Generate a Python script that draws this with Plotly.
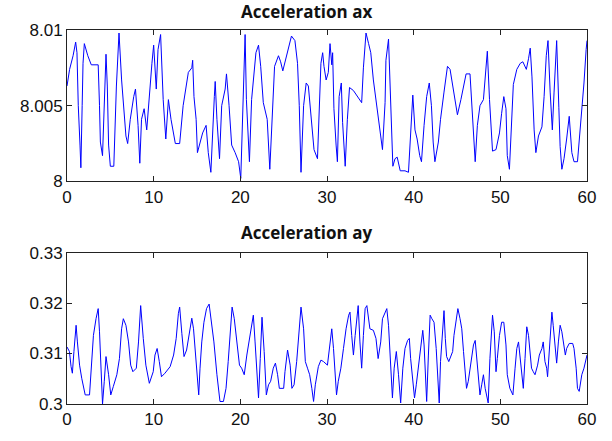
import plotly.graph_objects as go
from plotly.subplots import make_subplots

# Acceleration ax (time s, value)
ax_t = [0, 0.3, 0.7, 1.0, 1.15, 1.3, 1.5, 1.6, 1.75, 1.85, 2.0, 2.4, 2.8, 3.6, 3.75, 3.85, 4.1, 4.3, 4.5, 4.65,
        4.8, 5.0, 5.4, 5.7, 6.0, 6.3, 6.5, 6.7, 6.8, 7.0, 7.3, 7.7, 7.9, 8.2, 8.4, 8.6, 8.9, 9.2, 9.5, 9.8,
        10.0, 10.3, 10.5, 10.8, 11.1, 11.4, 11.7, 12.0, 12.5, 13.0, 13.4, 14.0, 14.4, 14.5, 14.65, 14.9, 15.05, 15.35, 15.65, 16.05,
        16.3, 16.6, 16.8, 17.0, 17.1, 17.3, 17.6, 17.85, 18.25, 18.4, 18.7, 19.0, 19.4, 19.8, 20.05, 20.3, 20.55, 20.7, 21.05, 21.3,
        21.6, 21.8, 22.1, 22.35, 22.65, 23.1, 23.4, 23.7, 23.95, 24.4, 24.65, 24.9, 25.15, 25.55, 25.9, 26.3, 26.6, 26.8, 27.0, 27.3,
        27.6, 27.85, 28.25, 28.5, 28.9, 29.1, 29.3, 29.5, 29.65, 29.9, 30.15, 30.35, 30.55, 30.65, 30.8, 31.05, 31.2, 31.4, 31.65, 31.8,
        32.1, 32.35, 32.6, 33.05, 33.6, 34.0, 34.2, 34.5, 34.8, 35.05, 35.35, 35.65, 35.9, 36.2, 36.4, 36.7, 36.8, 37.1, 37.3, 37.6,
        37.85, 38.1, 38.45, 39.0, 39.4, 39.6, 39.9, 40.15, 40.4, 40.7, 40.9, 41.2, 41.5, 41.8, 42.05, 42.25, 42.45, 42.85, 43.1, 43.5,
        43.9, 44.2, 44.5, 44.65, 45.05, 45.45, 45.75, 46.05, 46.5, 46.8, 47.1, 47.35, 47.65, 48.05, 48.25, 48.5, 48.75, 49.0, 49.1, 49.5,
        49.9, 50.15, 50.4, 50.65, 50.8, 51.05, 51.3, 51.5, 51.9, 52.3, 52.6, 53.0, 53.25, 53.45, 53.65, 53.9, 54.1, 54.4, 54.8, 55.05,
        55.3, 55.5, 55.75, 56.0, 56.2, 56.5, 56.75, 56.9, 57.1, 57.35, 57.65, 57.95, 58.25, 58.5, 58.9, 59.1, 59.4, 59.65, 59.9, 60.0]
ax_v = [8.0063, 8.0074, 8.0083, 8.0092, 8.0085, 8.0050, 8.0024, 8.0009, 8.0050, 8.0078, 8.0091, 8.0083, 8.0077, 8.0077, 8.0050, 8.0026, 8.0017, 8.0056, 8.0084, 8.0063,
        8.0024, 8.0010, 8.0010, 8.0063, 8.0098, 8.0067, 8.0054, 8.0041, 8.0030, 8.0025, 8.0041, 8.0056, 8.0061, 8.0037, 8.0012, 8.0041, 8.0048, 8.0034, 8.0059, 8.0078,
        8.0090, 8.0061, 8.0087, 8.0097, 8.0054, 8.0028, 8.0054, 8.0041, 8.0025, 8.0025, 8.0050, 8.0072, 8.0075, 8.0080, 8.0056, 8.0041, 8.0019, 8.0026, 8.0032, 8.0037,
        8.0019, 8.0006, 8.0037, 8.0056, 8.0066, 8.0041, 8.0015, 8.0050, 8.0061, 8.0071, 8.0050, 8.0024, 8.0019, 8.0013, 8.0002, 8.0050, 8.0097, 8.0054, 8.0013, 8.0054,
        8.0074, 8.0085, 8.0090, 8.0076, 8.0052, 8.0041, 8.0008, 8.0041, 8.0076, 8.0083, 8.0079, 8.0073, 8.0079, 8.0087, 8.0096, 8.0093, 8.0078, 8.0050, 8.0006, 8.0050,
        8.0065, 8.0063, 8.0039, 8.0021, 8.0015, 8.0050, 8.0078, 8.0085, 8.0076, 8.0067, 8.0072, 8.0091, 8.0077, 8.0085, 8.0048, 8.0024, 8.0013, 8.0056, 8.0065, 8.0039,
        8.0010, 8.0041, 8.0062, 8.0060, 8.0055, 8.0052, 8.0075, 8.0098, 8.0091, 8.0085, 8.0067, 8.0054, 8.0043, 8.0032, 8.0021, 8.0052, 8.0080, 8.0094, 8.0054, 8.0010,
        8.0015, 8.0016, 8.0007, 8.0007, 8.0006, 8.0030, 8.0057, 8.0034, 8.0028, 8.0017, 8.0013, 8.0037, 8.0056, 8.0065, 8.0050, 8.0026, 8.0013, 8.0026, 8.0041, 8.0059,
        8.0076, 8.0074, 8.0063, 8.0056, 8.0044, 8.0054, 8.0063, 8.0071, 8.0071, 8.0041, 8.0013, 8.0037, 8.0050, 8.0054, 8.0069, 8.0086, 8.0054, 8.0030, 8.0020, 8.0021,
        8.0032, 8.0045, 8.0056, 8.0048, 8.0017, 8.0008, 8.0041, 8.0064, 8.0074, 8.0078, 8.0079, 8.0074, 8.0081, 8.0088, 8.0069, 8.0034, 8.0019, 8.0030, 8.0036, 8.0056,
        8.0083, 8.0093, 8.0059, 8.0034, 8.0059, 8.0093, 8.0049, 8.0023, 8.0008, 8.0015, 8.0028, 8.0043, 8.0019, 8.0013, 8.0013, 8.0026, 8.0050, 8.0065, 8.0087, 8.0093]

# Acceleration ay (time s, value)
ay_t = [0, 0.28, 0.47, 0.62, 0.8, 1.05, 1.2, 1.45, 1.7, 2.1, 2.6, 2.85, 3.05, 3.35, 3.6, 3.75, 3.9, 4.1, 4.3, 4.5,
        4.8, 5.05, 5.35, 5.75, 6.05, 6.3, 6.5, 6.8, 7.1, 7.35, 7.6, 8.0, 8.25, 8.5, 8.8, 9.1, 9.5, 9.95, 10.15, 10.4,
        10.65, 10.9, 11.3, 11.9, 12.3, 12.6, 12.85, 13.0, 13.25, 13.5, 13.8, 14.1, 14.4, 14.6, 14.8, 15.0, 15.2, 15.35, 15.55, 15.8,
        16.1, 16.4, 16.7, 16.95, 17.3, 17.65, 18.05, 18.35, 18.6, 18.8, 19.05, 19.3, 19.6, 19.9, 20.15, 20.45, 20.75, 21.05, 21.3, 21.5,
        21.7, 21.8, 22.1, 22.3, 22.5, 22.75, 23.0, 23.25, 23.5, 23.8, 24.05, 24.3, 24.5, 25.0, 25.15, 25.45, 25.75, 25.95, 26.2, 26.5,
        26.75, 26.9, 27.0, 27.3, 27.5, 27.75, 28.0, 28.25, 28.45, 28.65, 28.8, 29.0, 29.3, 29.6, 30.05, 30.3, 30.55, 30.75, 30.95, 31.1,
        31.3, 31.6, 31.9, 32.2, 32.5, 32.65, 32.85, 33.05, 33.25, 33.45, 33.6, 33.8, 34.0, 34.2, 34.4, 34.6, 34.8, 34.95, 35.35, 35.65,
        35.9, 36.2, 36.4, 36.7, 36.9, 37.1, 37.3, 37.4, 37.55, 37.75, 38.0, 38.25, 38.5, 38.75, 39.0, 39.3, 39.5, 39.65, 39.9, 40.1,
        40.3, 40.55, 40.8, 41.05, 41.2, 41.45, 41.5, 41.7, 41.9, 42.1, 42.35, 42.6, 42.85, 42.95, 43.1, 43.35, 43.5, 43.65, 43.8, 44.05,
        44.3, 44.5, 44.65, 44.9, 45.1, 45.35, 45.55, 45.75, 45.95, 46.1, 46.3, 46.5, 46.7, 46.9, 47.1, 47.3, 47.5, 47.65, 47.85, 48.05,
        48.25, 48.4, 48.6, 48.8, 49.0, 49.1, 49.3, 49.5, 49.65, 49.9, 50.15, 50.4, 50.65, 50.8, 51.1, 51.45, 51.7, 51.9, 52.1, 52.3,
        52.5, 52.65, 52.85, 53.05, 53.25, 53.45, 53.6, 53.8, 54.0, 54.3, 54.5, 54.8, 54.95, 55.15, 55.35, 55.45, 55.65, 55.95, 56.1, 56.3,
        56.5, 56.7, 56.9, 57.1, 57.3, 57.5, 57.65, 57.95, 58.35, 58.5, 58.75, 58.9, 59.1, 59.4, 59.65, 59.9, 60.0]
ay_v = [0.3113, 0.3104, 0.3074, 0.3061, 0.3104, 0.3156, 0.3123, 0.3077, 0.3051, 0.3018, 0.3018, 0.3077, 0.3136, 0.3169, 0.3189, 0.3143, 0.3077, 0.3000, 0.3045, 0.3094,
        0.3058, 0.3018, 0.3035, 0.3058, 0.3090, 0.3149, 0.3169, 0.3156, 0.3123, 0.3077, 0.3064, 0.3071, 0.3123, 0.3195, 0.3130, 0.3077, 0.3041, 0.3064, 0.3097, 0.3110,
        0.3084, 0.3054, 0.3061, 0.3074, 0.3097, 0.3130, 0.3179, 0.3192, 0.3140, 0.3094, 0.3107, 0.3143, 0.3170, 0.3149, 0.3104, 0.3058, 0.3018, 0.3071, 0.3123, 0.3162,
        0.3189, 0.3198, 0.3162, 0.3123, 0.3058, 0.3005, 0.3005, 0.3031, 0.3084, 0.3136, 0.3192, 0.3169, 0.3123, 0.3077, 0.3071, 0.3058, 0.3097, 0.3130, 0.3149, 0.3176,
        0.3123, 0.3090, 0.3012, 0.3090, 0.3172, 0.3104, 0.3018, 0.3038, 0.3045, 0.3071, 0.3081, 0.3058, 0.3031, 0.3031, 0.3064, 0.3107, 0.3077, 0.3031, 0.3038, 0.3084,
        0.3130, 0.3169, 0.3192, 0.3149, 0.3084, 0.3071, 0.3058, 0.3031, 0.3005, 0.3038, 0.3058, 0.3074, 0.3087, 0.3084, 0.3077, 0.3117, 0.3149, 0.3110, 0.3045, 0.3018,
        0.3045, 0.3071, 0.3110, 0.3149, 0.3176, 0.3182, 0.3136, 0.3097, 0.3136, 0.3176, 0.3195, 0.3123, 0.3071, 0.3136, 0.3189, 0.3195, 0.3169, 0.3149, 0.3146, 0.3130,
        0.3090, 0.3123, 0.3169, 0.3182, 0.3189, 0.3156, 0.3090, 0.3045, 0.3012, 0.3071, 0.3104, 0.3058, 0.3002, 0.3071, 0.3110, 0.3126, 0.3130, 0.3090, 0.3045, 0.3012,
        0.3038, 0.3071, 0.3110, 0.3146, 0.3117, 0.3031, 0.3005, 0.3097, 0.3176, 0.3169, 0.3162, 0.3110, 0.3031, 0.3002, 0.3084, 0.3156, 0.3185, 0.3130, 0.3094, 0.3084,
        0.3094, 0.3104, 0.3136, 0.3169, 0.3189, 0.3169, 0.3149, 0.3104, 0.3058, 0.3031, 0.3045, 0.3071, 0.3097, 0.3117, 0.3126, 0.3090, 0.3045, 0.3018, 0.3038, 0.3058,
        0.3031, 0.3018, 0.3002, 0.3090, 0.3149, 0.3176, 0.3143, 0.3064, 0.3090, 0.3136, 0.3162, 0.3162, 0.3117, 0.3058, 0.3031, 0.3018, 0.3071, 0.3110, 0.3123, 0.3084,
        0.3051, 0.3031, 0.3090, 0.3153, 0.3136, 0.3097, 0.3071, 0.3064, 0.3058, 0.3077, 0.3097, 0.3110, 0.3123, 0.3084, 0.3071, 0.3054, 0.3110, 0.3182, 0.3156, 0.3117,
        0.3081, 0.3123, 0.3156, 0.3143, 0.3123, 0.3097, 0.3110, 0.3120, 0.3120, 0.3110, 0.3071, 0.3031, 0.3025, 0.3058, 0.3071, 0.3090, 0.3097]

titles = ["Acceleration ax", "Acceleration ay"]
x_ticks = [0, 10, 20, 30, 40, 50, 60]
ax_ticks = [8, 8.005, 8.01]
ax_ticktext = ["8", "8.005", "8.01"]
ay_ticks = [0.30, 0.31, 0.32, 0.33]
ay_ticktext = ["0.3", "0.31", "0.32", "0.33"]

fig = make_subplots(rows=2, cols=1, vertical_spacing=0.19)
fig.add_trace(go.Scatter(x=ax_t, y=ax_v, mode="lines", line=dict(color="#0000ff", width=1)), row=1, col=1)
fig.add_trace(go.Scatter(x=ay_t, y=ay_v, mode="lines", line=dict(color="#0000ff", width=1)), row=2, col=1)

axis_style = dict(showline=True, linecolor="#222222", linewidth=1, mirror="ticks", ticks="inside",
                  ticklen=5, tickcolor="#222222", showgrid=False, zeroline=False,
                  tickfont=dict(family="Liberation Sans, Arial", size=17, color="#111111"))

fig.update_xaxes(range=[0, 60], tickvals=x_ticks, **axis_style)
fig.update_yaxes(**axis_style)
fig.update_xaxes(domain=[0, 1])
fig.update_yaxes(range=[8, 8.01], tickvals=ax_ticks, ticktext=ax_ticktext, domain=[0.5952, 1.0], row=1, col=1)
fig.update_yaxes(range=[0.30, 0.33], tickvals=ay_ticks, ticktext=ay_ticktext, domain=[0.0, 0.4048], row=2, col=1)

domain_tops = [1.0, 0.4048]
title_shift = [18.5, 20.5]
for title, top, sh in zip(titles, domain_tops, title_shift):
    fig.add_annotation(text="<b>" + title + "</b>", xref="paper", yref="paper", x=0.4615, y=top,
                       yshift=sh, xanchor="center", yanchor="middle", showarrow=False,
                       font=dict(family="Open Sans", size=17, color="#111111"))

fig.update_layout(width=612, height=441, margin=dict(l=67, r=25, t=30, b=33),
                  paper_bgcolor="white", plot_bgcolor="white", showlegend=False)

fig.write_html("out.html", config={"displayModeBar": False},
               post_script="document.body.style.margin='0px';")
